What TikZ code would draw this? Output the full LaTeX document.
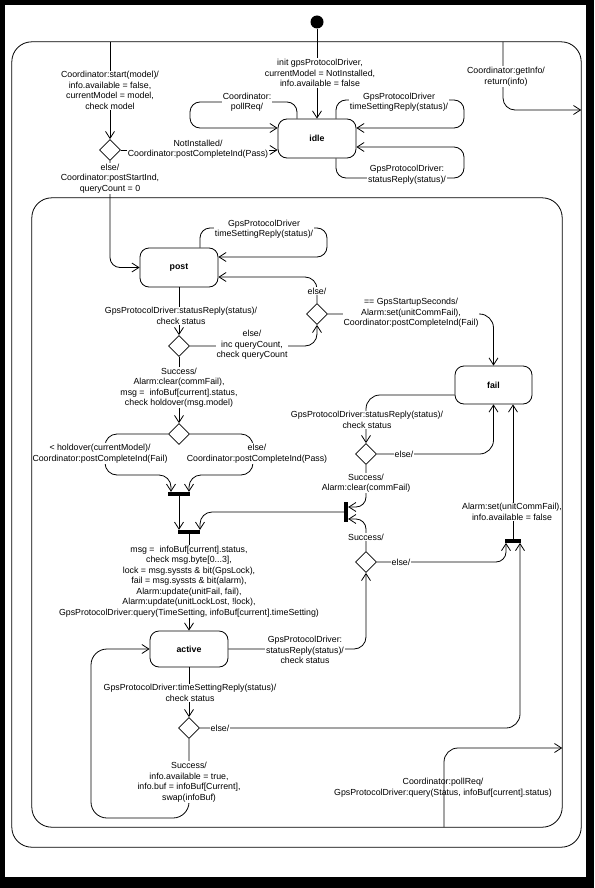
\documentclass[tikz,border=0pt]{standalone}
\usepackage{fontspec}
\setmainfont{Liberation Sans}
\usetikzlibrary{arrows.meta,shapes.geometric}
\begin{document}
\begin{tikzpicture}[x=1pt,y=-1pt,
  every node/.style={font=\fontsize{8.8}{10.5}\selectfont},
  >={Straight Barb[length=7pt,width=9pt]},
  tr/.style={draw, line width=0.8pt, ->},
  loopt/.style={tr, rounded corners=10pt},
  st/.style={draw, line width=0.8pt, rounded corners=9pt, minimum width=78pt, minimum height=38pt, inner sep=0pt, font=\fontsize{8.8}{10.5}\selectfont\bfseries},
  ch/.style={diamond, draw, line width=0.8pt, minimum width=21pt, minimum height=21pt, inner sep=0pt, aspect=1},
  bar/.style={fill=black, inner sep=0pt, draw=none},
  lbl/.style={fill=white, inner sep=0.8pt, align=center},
  clearlbl/.style={inner sep=0.8pt, align=center},
  comp/.style={inner sep=0pt, draw=none},
  compborder/.style={draw, line width=0.8pt, rounded corners=20pt}
]
\useasboundingbox (0,0) rectangle (594,888);
\fill[black] (0,0) rectangle (594,888);
\fill[white] (5,5) rectangle (586,877);

% composite states (borders drawn at the end)
\node[comp, minimum width=569pt, minimum height=805pt] (outer) at (296.5,444.5) {};
\node[comp, minimum width=530pt, minimum height=629pt] (inner) at (297,512.5) {};

% initial state
\node[circle, fill=black, minimum size=13pt, inner sep=0pt] (init) at (317,22) {};

% states
\node[st, minimum height=39pt] (idle) at (317,138.5) {idle};
\node[st, minimum height=39pt] (post) at (179,267.5) {post};
\node[st, minimum width=77pt] (fail) at (493.5,385) {fail};
\node[st, minimum height=36pt] (active) at (189,649) {active};

% choices
\node[ch] (d1) at (110,150) {};
\node[ch] (d2) at (317,314) {};
\node[ch] (d3) at (179,346) {};
\node[ch] (d4) at (366,454) {};
\node[ch] (d5) at (366,562) {};
\node[ch] (d6) at (179,434) {};
\node[ch] (d7) at (189,728) {};

% junction bars
\node[bar, minimum width=22pt, minimum height=4pt] (b1) at (179,494) {};
\node[bar, minimum width=22pt, minimum height=4pt] (b2) at (189,532) {};
\node[bar, minimum width=16pt, minimum height=3.5pt] (b3) at (513,541) {};
\node[bar, minimum width=4pt, minimum height=20pt] (bj) at (346,512) {};

% transitions
\draw[tr] (init) -- (idle);
\draw[tr] (outer.north -| d1) -- (d1);
\draw[tr] (d1.east) -- (d1.east -| idle.west);
\draw[loopt] ([xshift=-20pt]idle.north) |- (190,102) |- ([yshift=10.5pt]idle.west);
\draw[loopt] ([xshift=19pt]idle.north) |- (464,100) |- ([yshift=10.5pt]idle.east);
\draw[loopt] ([xshift=19pt]idle.south) |- (464,178) |- ([yshift=-8.5pt]idle.east);
\draw[tr, rounded corners=12pt] (outer.north -| 503,0) |- (outer.east |- 0,110);
\draw[tr, rounded corners=10pt] (d1.south) |- (post.west);
\draw[loopt] ([xshift=21pt]post.north) |- (327,228) |- ([yshift=10.5pt]post.east);
\draw[tr] (post.south) -- (d3.north);
\draw[tr, rounded corners=12pt] (d3.east) -| (d2.south);
\draw[tr, rounded corners=12pt] (d2.north) |- ([yshift=-9.5pt]post.east);
\draw[tr, rounded corners=14pt] (d2.east) -| (fail.north);
\draw[tr] (d3.south) -- (d6.north);
\draw[tr, rounded corners=12pt] (d6.west) -| (105,475) -| ([xshift=-8pt]b1.north);
\draw[tr, rounded corners=12pt] (d6.east) -| (253,475) -| ([xshift=10pt]b1.north);
\draw[tr] (b1.south) -- (b1.south |- b2.north);
\draw[tr, rounded corners=12pt] (bj.west) -| ([xshift=11pt]b2.north);
\draw[tr, rounded corners=14pt] ([yshift=-10pt]fail.west) -| (d4.north);
\draw[tr, rounded corners=14pt] (d4.east) -| (fail.south);
\draw[tr, rounded corners=10pt] (d4.south) |- ([yshift=5pt]bj.east);
\draw[tr, rounded corners=10pt] (d5.north) |- ([yshift=-7pt]bj.east);
\draw[tr, rounded corners=10pt] (d5.east) -| ([xshift=-7pt]b3.south);
\draw[tr] (b3.north) -- (b3.north |- fail.south);
\draw[tr] (b2.south) -- (active.north);
\draw[tr, rounded corners=12pt] (active.east) -| (d5.south);
\draw[tr] (active.south) -- (d7.north);
\draw[tr, rounded corners=14pt] (d7.east) -| ([xshift=7pt]b3.south);
\draw[tr, rounded corners=16pt] (d7.south) |- (91,818) |- (active.west);

% labels
\node[lbl] (l1) at (320,73) {init gpsProtocolDriver,\\currentModel = NotInstalled,\\info.available = false};
\node[lbl] (l2) at (110,90.5) {Coordinator:start(model)/\\info.available = false,\\currentModel = model,\\check model};
\node[lbl] (l3) at (247,102) {Coordinator:\\pollReq/};
\node[lbl] (l4) at (399,102) {GpsProtocolDriver\\timeSettingReply(status)/};
\node[lbl] (l5) at (407,174.5) {GpsProtocolDriver:\\statusReply(status)/};
\node[lbl] (l6) at (506,76.5) {Coordinator:getInfo/\\return(info)};
\node[lbl] (l7) at (198,149) {NotInstalled/\\Coordinator:postCompleteInd(Pass)};
\node[lbl] (l8) at (110,178.5) {else/\\Coordinator:postStartInd,\\queryCount = 0};
\node[lbl] (l9) at (264,229) {GpsProtocolDriver\\timeSettingReply(status)/};
\node[lbl] (l10) at (181,316) {GpsProtocolDriver:statusReply(status)/\\check status};
\node[lbl] (l11) at (252,345) {else/\\inc queryCount,\\check queryCount};
\node[lbl] (l12) at (317,291) {else/};
\node[lbl] (l13) at (411,313) {== GpsStartupSeconds/\\Alarm:set(unitCommFail),\\Coordinator:postCompleteInd(Fail)};
\node[lbl] (l14) at (179,387.5) {Success/\\Alarm:clear(commFail),\\msg =\ \ infoBuf[current].status,\\check holdover(msg.model)};
\node[lbl] (l15) at (100,453.5) {< holdover(currentModel)/\\Coordinator:postCompleteInd(Fail)};
\node[lbl] (l16) at (257,453.5) {else/\\Coordinator:postCompleteInd(Pass)};
\node[lbl] (l17) at (367,420) {GpsProtocolDriver:statusReply(status)/\\check status};
\node[lbl] (l18) at (404,454) {else/};
\node[lbl] (l19) at (366,483) {Success/\\Alarm:clear(commFail)};
\node[lbl] (l20) at (366,537) {Success/};
\node[lbl] (l21) at (401,562) {else/};
\node[lbl] (l22) at (512,512) {Alarm:set(unitCommFail),\\info.available = false};
\node[lbl] (l23) at (189,581.5) {msg =\ \ infoBuf[current].status,\\check msg.byte[0...3],\\lock = msg.syssts \& bit(GpsLock),\\fail = msg.syssts \& bit(alarm),\\Alarm:update(unitFail, fail),\\Alarm:update(unitLockLost, !lock),\\GpsProtocolDriver:query(TimeSetting, infoBuf[current].timeSetting)};
\node[lbl] (l24) at (305,650) {GpsProtocolDriver:\\statusReply(status)/\\check status};
\node[lbl] (l25) at (190,693) {GpsProtocolDriver:timeSettingReply(status)/\\check status};
\node[lbl] (l26) at (220,728) {else/};
\node[lbl] (l27) at (189,782) {Success/\\info.available = true,\\info.buf = infoBuf[Current],\\swap(infoBuf)};
\node[clearlbl] (l28) at (443,787.5) {Coordinator:pollReq/\\GpsProtocolDriver:query(Status, infoBuf[current].status)};

% transition drawn over its label, as in the reference
\draw[tr, rounded corners=14pt] (inner.south -| 444,0) |- (inner.east |- 0,748);

% composite borders
\draw[compborder] (outer.north west) rectangle (outer.south east);
\draw[compborder] (inner.north west) rectangle (inner.south east);
\end{tikzpicture}
\end{document}
